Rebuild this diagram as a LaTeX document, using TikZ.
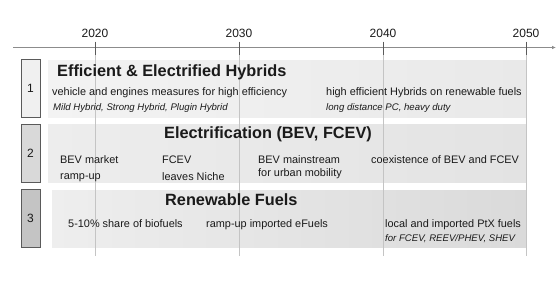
\documentclass[tikz,border=0pt]{standalone}
\usepackage{fontspec}
\setmainfont{Liberation Sans}
\usetikzlibrary{arrows.meta, positioning}
\definecolor{grisEje}{HTML}{8C8C8C}
\definecolor{grisLinea}{HTML}{C4C4C4}
\definecolor{grisBorde}{HTML}{5A5A5A}
\definecolor{grisTexto}{HTML}{1A1A1A}
\definecolor{bandaUnoA}{HTML}{F3F3F3}
\definecolor{bandaUnoB}{HTML}{E9E9E9}
\definecolor{bandaDosA}{HTML}{EDEDED}
\definecolor{bandaDosB}{HTML}{E3E3E3}
\definecolor{bandaTresA}{HTML}{EEEEEE}
\definecolor{bandaTresB}{HTML}{DADADA}

\begin{document}
\begin{tikzpicture}[x=1pt, y=-1pt, >=Latex, text=grisTexto,
        font=\fontsize{10.9}{12}\selectfont,
        year/.style={anchor=base, inner sep=0pt, font=\fontsize{12}{14}\selectfont},
        numbox/.style={draw=grisBorde, line width=0.8pt, minimum width=19pt,
            minimum height=58pt, inner sep=0pt, font=\fontsize{12}{14}\selectfont},
        ttl/.style={anchor=base west, inner sep=0pt, font=\fontsize{16.3}{18}\selectfont\bfseries},
        txt/.style={anchor=base west, inner sep=0pt},
        note/.style={anchor=base west, inner sep=0pt, font=\fontsize{9.6}{11}\selectfont\itshape},
        axis/.style={grisEje, line width=1.1pt, -{Latex[length=4pt, width=3.5pt]}},
        tick/.style={grisBorde, line width=0.8pt},
        grid/.style={grisLinea, line width=0.5pt}]
        \useasboundingbox (0,0) rectangle (557,282);
        % bands
        \fill[left color=bandaUnoA, right color=bandaUnoB] (48,60) rectangle (526,117);
        \fill[left color=bandaDosA, right color=bandaDosB] (48,124) rectangle (526,182);
        \fill[left color=bandaTresA, right color=bandaTresB] (52,190) rectangle (526,247);
        % time axis
        \coordinate (ejeIni) at (13,47.5);
        \coordinate (ejeFin) at (556,47.5);
        \foreach \a/\x in {2020/95, 2030/239, 2040/383, 2050/526} {
            \coordinate (t\a) at (\x,47.5);
            \coordinate (f\a) at (\x,256);
            \draw[grid] (t\a) -- (f\a);
            \node[year] (y\a) at (\x,37) {\a};
        }
        \draw[axis] (ejeIni) -- (ejeFin);
        \foreach \a in {2020,2030,2040,2050}
            \draw[tick] ([yshift=6pt]t\a) -- ([yshift=-7pt]t\a);
        % row numbers
        \node[numbox, fill=black!6]  (n1) at (30.5,88)  {1};
        \node[numbox, fill=black!15] (n2) at (30.5,153) {2};
        \node[numbox, fill=black!23] (n3) at (30.5,218.5) {3};
        % row 1
        \node[ttl]  (h1)  at (57,76)   {Efficient \& Electrified Hybrids};
        \node[txt]  (a1)  at (52,95)   {vehicle and engines measures for high efficiency};
        \node[note] (a1n) at (53,110.5) {Mild Hybrid, Strong Hybrid, Plugin Hybrid};
        \node[txt]  (b1)  at (326,95)  {high efficient Hybrids on renewable fuels};
        \node[note] (b1n) at (326,110.5) {long distance PC, heavy duty};
        % row 2
        \node[ttl]  (h2)  at (164,138) {Electrification (BEV, FCEV)};
        \node[txt]  (a2)  at (60,163)  {BEV market};
        \node[txt]  (a2b) at (60,179.5) {ramp-up};
        \node[txt]  (b2)  at (162,163) {FCEV};
        \node[txt]  (b2b) at (162,180) {leaves Niche};
        \node[txt]  (c2)  at (258,163) {BEV mainstream};
        \node[txt]  (c2b) at (258,176) {for urban mobility};
        \node[txt]  (d2)  at (371,163) {coexistence of BEV and FCEV};
        % row 3
        \node[ttl]  (h3)  at (165,205) {Renewable Fuels};
        \node[txt]  (a3)  at (68,227)  {5-10\% share of biofuels};
        \node[txt]  (b3)  at (206,227) {ramp-up imported eFuels};
        \node[txt]  (c3)  at (385,227) {local and imported PtX fuels};
        \node[note] (c3n) at (385,241.5) {for FCEV, REEV/PHEV, SHEV};
    \end{tikzpicture}
\end{document}
